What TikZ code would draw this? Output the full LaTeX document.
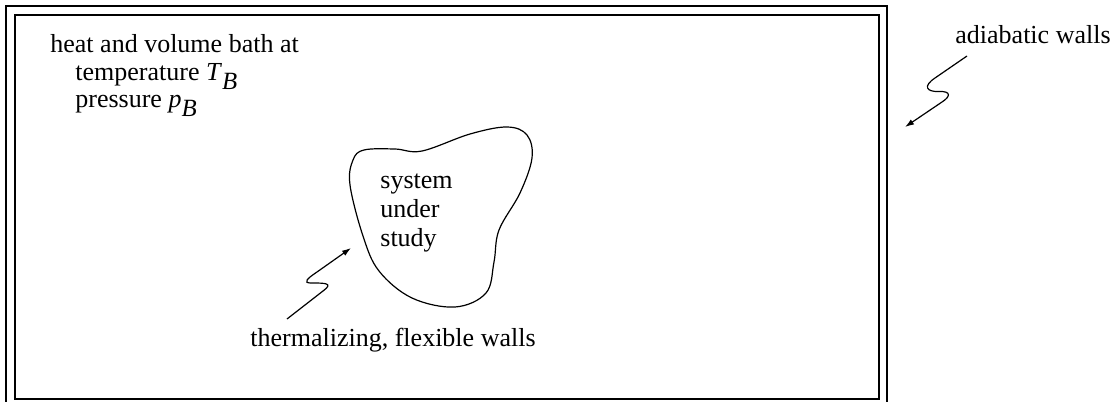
\documentclass[tikz,border=0pt]{standalone}
\usepackage{fontspec}
\setmainfont{Liberation Serif}
\usetikzlibrary{arrows.meta}
\newcommand{\subB}[1]{\textit{#1}\raisebox{-0.36em}{\fontsize{12.4}{13}\selectfont\textit{B}}}
\begin{document}
\begin{tikzpicture}[x=0.5pt,y=-0.5pt,
  frame/.style={line width=0.75pt},
  wall/.style={line width=0.6pt},
  squiggle/.style={line width=0.6pt,-{Latex[length=4.5pt,width=3pt]}},
  lbl/.style={inner sep=0pt,anchor=base west,font=\fontsize{13}{14}\selectfont}]
\useasboundingbox (0,0) rectangle (1115,402);
% double frame of the adiabatic walls
\draw[frame] (6,6) rectangle (887,410);
\draw[frame] (15,15) rectangle (879,399);
% bath description
\node[lbl] (bath) at (50,52) {heat and volume bath at};
\node[lbl] (temp) at (75,80) {temperature \subB{T}};
\node[lbl] (pres) at (75,107) {pressure \subB{p}};
% the system boundary
\draw[wall] plot[smooth cycle, tension=0.6] coordinates {
  (364,150) (395,149) (422,151) (470,134) (507,127) (527,135) (532,158)
  (520,193) (499,230) (494,262) (486,293) (455,307) (412,298) (379,271)
  (363,236) (350,185) (353,160)};
\node[lbl] (sys) at (380,188) {system};
\node[lbl] (und) at (380,217) {under};
\node[lbl] (stu) at (380,246) {study};
% labels with their squiggly pointers
\node[lbl] (therm) at (250,346) {thermalizing, flexible walls};
\node[lbl] (adia) at (955,43) {adiabatic walls};
\coordinate (t0) at (287,319);
\coordinate (t1) at (351,248);
\coordinate (a0) at (967,56);
\coordinate (a1) at (905,127);
\draw[squiggle] (t0) -- (323,291) .. controls (334,283) and (325,283) .. (311,283)
  .. controls (302,283) and (308,278) .. (317,272) -- (t1);
\draw[squiggle] (a0) -- (935,78) .. controls (923,86) and (926,92) .. (939,91.5)
  .. controls (952,91) and (950,97) .. (942,102) -- (a1);
\end{tikzpicture}
\end{document}
